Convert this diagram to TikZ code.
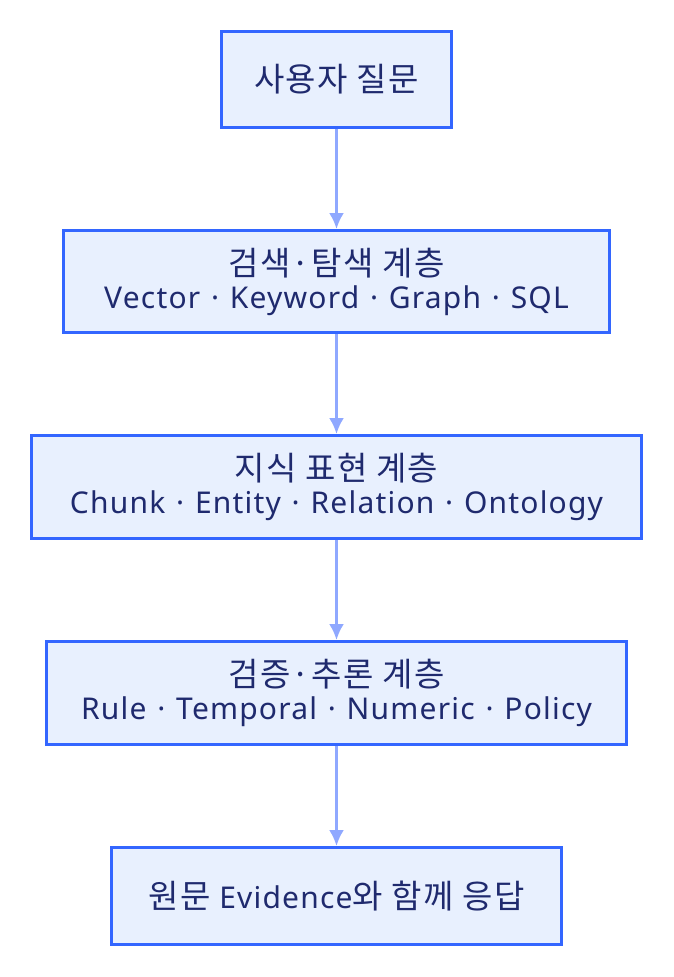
\documentclass[tikz,border=0pt]{standalone}
\usepackage{fontspec}
\setmainfont[LetterSpace=4]{Noto Sans CJK KR}
\newfontfamily\latinfont[LetterSpace=4]{Noto Sans}
\usetikzlibrary{arrows.meta,positioning}
\definecolor{boxline}{HTML}{3366FF}
\definecolor{boxfill}{HTML}{E8F0FE}
\definecolor{boxtext}{HTML}{1F2A6E}
\definecolor{arrline}{HTML}{8FA8FF}
\newcommand{\lat}[1]{{\latinfont\fontsize{30}{33}\selectfont #1}}
\newcommand{\sepdot}{\hspace{0.36em}·\hspace{0.36em}}

\begin{document}
\begin{tikzpicture}[
    node distance=100pt,
    box/.style={draw=boxline, fill=boxfill, line width=3pt, align=center, text=boxtext,
      inner sep=0pt, font=\fontsize{33}{33}\selectfont},
    arr/.style={-{Latex[length=16pt,width=15pt]}, draw=arrline, line width=2.5pt}
  ]
  \useasboundingbox (0,0) rectangle (674pt,-977pt);
  \node[box, minimum width=230pt, minimum height=96pt] (ask) at (336.5pt,-79.5pt) {사용자 질문};
  \node[box, below=of ask, minimum width=546pt, minimum height=102pt] (search) {검색·탐색 계층\\\lat{Vector\sepdot Keyword\sepdot Graph\sepdot SQL}};
  \node[box, below=of search, minimum width=610pt, minimum height=103pt] (know) {지식 표현 계층\\\lat{Chunk\sepdot Entity\sepdot Relation\sepdot Ontology}};
  \node[box, below=of know, minimum width=580pt, minimum height=103pt] (reason) {검증·추론 계층\\\lat{Rule\sepdot Temporal\sepdot Numeric\sepdot Policy}};
  \node[box, below=of reason, minimum width=450pt, minimum height=97pt] (answer) {원문 \lat{Evidence}와 함께 응답};
  \draw[arr] (ask) -- (search);
  \draw[arr] (search) -- (know);
  \draw[arr] (know) -- (reason);
  \draw[arr] (reason) -- (answer);
\end{tikzpicture}
\end{document}
